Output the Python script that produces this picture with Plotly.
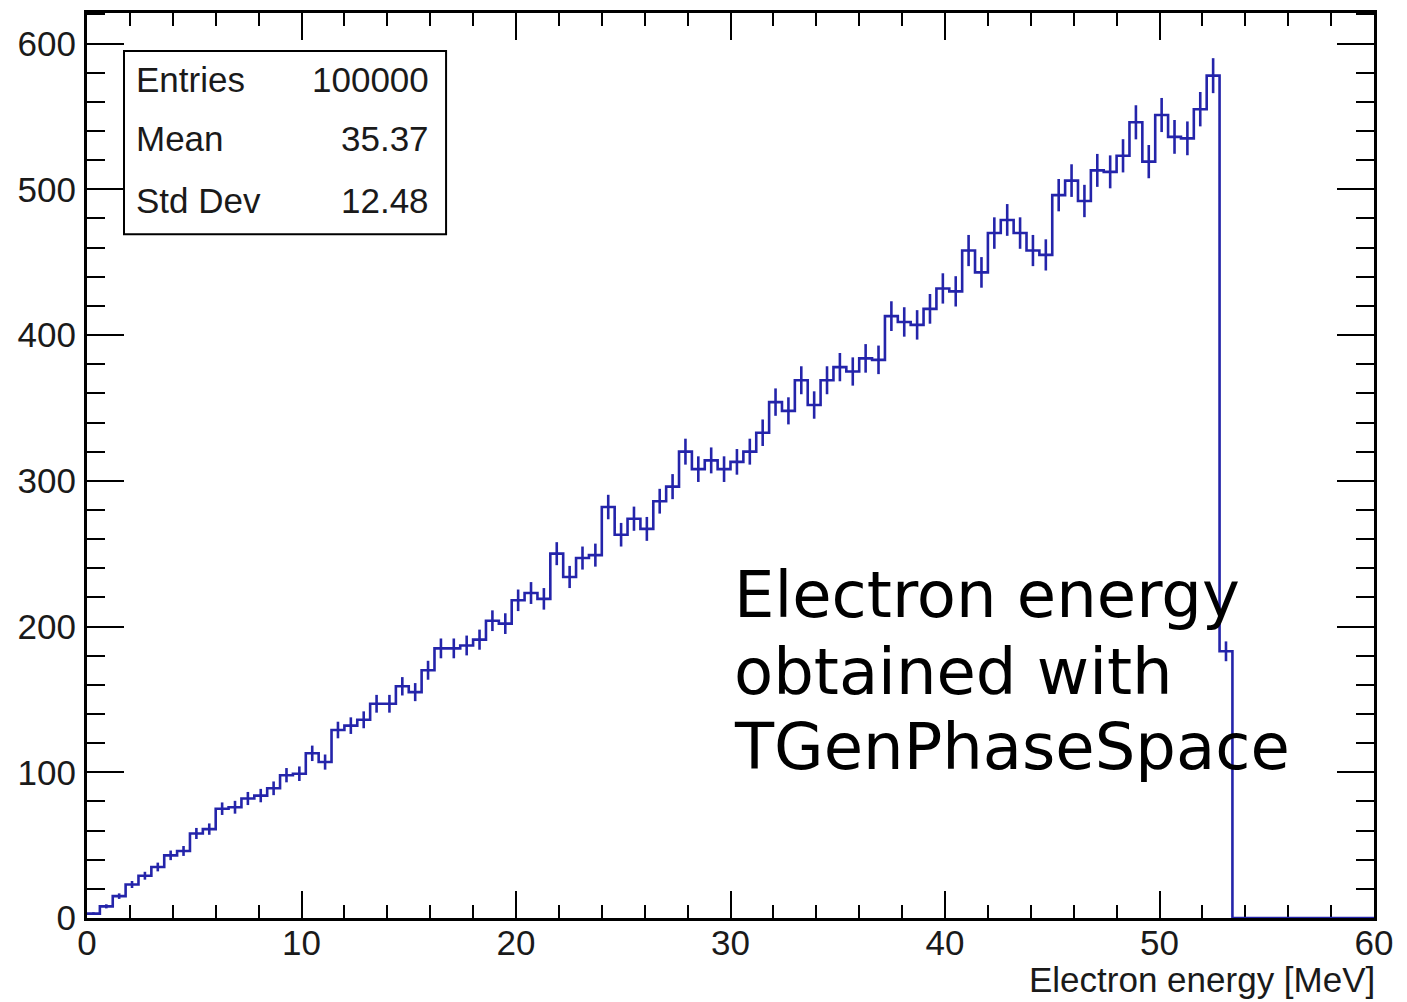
import numpy as np
import plotly.graph_objects as go

# Histogram binning: 100 bins over 0-60 MeV
x_min, x_max, n_bins = 0.0, 60.0, 100

# Bin contents (electron energy spectrum)
counts = [
    3, 8, 15, 23, 29, 35, 43, 46, 58, 61,
    75, 76, 82, 84, 89, 98, 99, 113, 107, 129,
    132, 136, 147, 147, 159, 155, 170, 185, 185, 187,
    191, 204, 202, 218, 223, 219, 250, 234, 247, 249,
    282, 263, 274, 267, 286, 296, 320, 308, 314, 308,
    313, 320, 333, 354, 348, 369, 352, 369, 378, 375,
    384, 383, 413, 409, 407, 418, 432, 430, 458, 443,
    470, 479, 470, 458, 455, 496, 506, 492, 513, 512,
    523, 546, 519, 551, 536, 535, 555, 578, 183, 0,
    0, 0, 0, 0, 0, 0, 0, 0, 0, 0,
]

# Per-bin statistical errors
errors = [
    0.9, 1.4, 1.9, 2.4, 2.7, 3.0, 3.3, 3.4, 3.8, 3.9,
    4.3, 4.4, 4.5, 4.6, 4.7, 4.9, 5.0, 5.3, 5.2, 5.7,
    5.7, 5.8, 6.1, 6.1, 6.3, 6.2, 6.5, 6.8, 6.8, 6.8,
    6.9, 7.1, 7.1, 7.4, 7.5, 7.4, 7.9, 7.6, 7.9, 7.9,
    8.4, 8.1, 8.3, 8.2, 8.5, 8.6, 8.9, 8.8, 8.9, 8.8,
    8.8, 8.9, 9.1, 9.4, 9.3, 9.6, 9.4, 9.6, 9.7, 9.7,
    9.8, 9.8, 10.2, 10.1, 10.1, 10.2, 10.4, 10.4, 10.7, 10.5,
    10.8, 10.9, 10.8, 10.7, 10.7, 11.1, 11.2, 11.1, 11.3, 11.3,
    11.4, 11.7, 11.4, 11.7, 11.6, 11.6, 11.8, 12.0, 6.8, 0,
    0, 0, 0, 0, 0, 0, 0, 0, 0, 0,
]

stats_labels = ["Entries", "Mean", "Std Dev"]
stats_values = ["100000", "35.37", "12.48"]

x_title = "Electron energy [MeV]"
note_lines = ["Electron energy", "obtained with", "TGenPhaseSpace"]

y_ticks = [0, 100, 200, 300, 400, 500, 600]
x_ticks = [0, 10, 20, 30, 40, 50, 60]

edges = np.linspace(x_min, x_max, n_bins + 1)
centers = 0.5 * (edges[:-1] + edges[1:])
counts_arr = np.array(counts, dtype=float)
errors_arr = np.array(errors, dtype=float)

HIST_COLOR = "#2424aa"
TEXT_COLOR = "#1a1a1a"
ROOT_FONT = "Liberation Sans, Arial, Helvetica, sans-serif"
ROOT_SIZE = 35

fig = go.Figure()

# Step outline of the histogram
fig.add_trace(go.Scatter(
    x=edges,
    y=np.append(counts_arr, counts_arr[-1]),
    mode="lines",
    line=dict(shape="hv", color=HIST_COLOR, width=2.6),
    hoverinfo="skip",
    showlegend=False,
))

# Vertical error bars at bin centres (non-empty bins only)
mask = counts_arr > 0
fig.add_trace(go.Scatter(
    x=centers[mask],
    y=counts_arr[mask],
    mode="markers",
    marker=dict(size=0.1, color=HIST_COLOR),
    error_y=dict(type="data", array=errors_arr[mask], visible=True,
                 color=HIST_COLOR, thickness=2.6, width=0),
    showlegend=False,
))

axis_common = dict(
    showgrid=False,
    zeroline=False,
    showline=True,
    linecolor="black",
    linewidth=3,
    mirror="ticks",
    ticks="inside",
    tickcolor="black",
    tickwidth=2,
    tickfont=dict(family=ROOT_FONT, size=ROOT_SIZE, color=TEXT_COLOR),
)

fig.update_xaxes(
    range=[x_min, x_max],
    tickmode="array",
    tickvals=x_ticks,
    ticktext=[str(v) for v in x_ticks],
    ticklen=27,
    minor=dict(dtick=2, tick0=0, ticks="inside", ticklen=13,
               tickwidth=2, tickcolor="black"),
    ticklabelstandoff=-8,
    layer="below traces",
    **axis_common,
)
fig.update_yaxes(
    range=[0, 621],
    tickmode="array",
    tickvals=y_ticks,
    ticktext=[str(v) for v in y_ticks],
    ticklen=37,
    minor=dict(dtick=20, tick0=0, ticks="inside", ticklen=18,
               tickwidth=2, tickcolor="black"),
    ticklabelstandoff=1,
    **axis_common,
)

annotations = []

# Statistics box contents
stat_rows_y = [0.927, 0.861, 0.7925]
for label, value, yy in zip(stats_labels, stats_values, stat_rows_y):
    annotations.append(dict(
        x=0.0389, y=yy, xref="paper", yref="paper",
        text=label, showarrow=False, xanchor="left", yanchor="middle",
        xshift=-3,
        font=dict(family=ROOT_FONT, size=ROOT_SIZE, color=TEXT_COLOR),
    ))
    annotations.append(dict(
        x=0.265, y=yy, xref="paper", yref="paper",
        text=value, showarrow=False, xanchor="right", yanchor="middle",
        xshift=3,
        font=dict(family=ROOT_FONT, size=ROOT_SIZE, color=TEXT_COLOR),
    ))

# Axis title, right-aligned under the frame
annotations.append(dict(
    x=1.0, y=-0.068, xref="paper", yref="paper",
    text=x_title, showarrow=False, xanchor="right", yanchor="middle",
    xshift=3,
    font=dict(family=ROOT_FONT, size=ROOT_SIZE, color=TEXT_COLOR),
))

# Free-floating note
note_y = [0.3565, 0.2715, 0.1885]
for line, yy in zip(note_lines, note_y):
    annotations.append(dict(
        x=0.5035, y=yy, xref="paper", yref="paper",
        text=line, showarrow=False, xanchor="left", yanchor="middle",
        xshift=-3,
        font=dict(family="DejaVu Sans", size=64, color="black"),
    ))

fig.update_layout(
    width=1407,
    height=1002,
    margin=dict(l=87, r=33, t=10, b=84),
    paper_bgcolor="white",
    plot_bgcolor="white",
    annotations=annotations,
    shapes=[dict(
        type="rect", xref="paper", yref="paper",
        x0=0.02875, x1=0.279, y0=0.7555, y1=0.958,
        line=dict(color="black", width=2), fillcolor="white", layer="below",
    )],
    showlegend=False,
)

fig.write_html("out.html")
